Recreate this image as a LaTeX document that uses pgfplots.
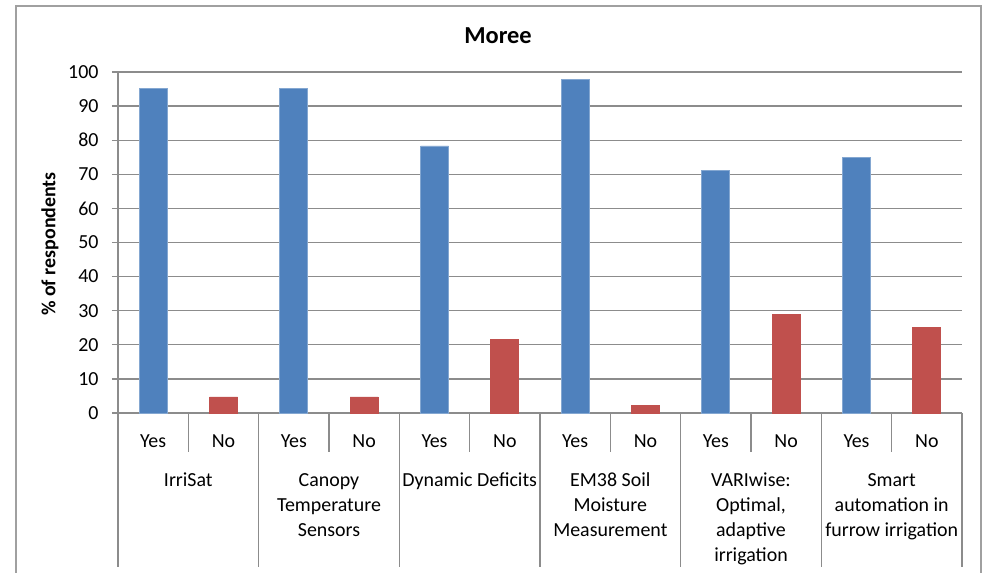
\documentclass[border=0pt]{standalone}
\usepackage{pgfplots}
\pgfplotsset{compat=1.18}
\usepackage{fontspec}
\setmainfont{Carlito}
\definecolor{barblue}{HTML}{4F81BD}
\definecolor{barred}{HTML}{C0504D}
\definecolor{gridgray}{HTML}{8C8C8C}
\definecolor{framegray}{HTML}{A0A0A0}
\begin{document}
\begin{tikzpicture}
\useasboundingbox (-118bp,-160bp) rectangle (868bp,413bp);
\draw[framegray, line width=1.5bp] (-102bp,-175bp) -- (-102bp,407bp) -- (863bp,407bp) -- (863bp,-175bp);
\begin{axis}[
  at={(0,0)}, anchor=south west,
  scale only axis, width=844bp, height=341bp,
  xmin=-0.5, xmax=11.5, ymin=0, ymax=100,
  axis lines*=left,
  axis line style={gridgray, line width=1.2bp},
  ytick={0,10,...,100},
  ymajorgrids, grid style={gridgray, line width=1.2bp},
  tick align=outside,
  y tick style={gridgray, line width=1.2bp},
  major tick length=6bp,
  xtick={0,...,11},
  xticklabels={Yes,No,Yes,No,Yes,No,Yes,No,Yes,No,Yes,No},
  x tick style={draw=none},
  /pgf/number format/assume math mode=true,
  ticklabel style={font=\fontsize{20}{24.5}\selectfont, text=black},
  xticklabel style={anchor=center, yshift=-22bp},
  yticklabel style={anchor=east, xshift=-10bp},
  ybar, bar width=28bp, bar shift=0pt,
  clip=false,
]
\addplot[fill=barblue, draw=barblue!70!white, line width=0.8bp] coordinates {(0,95.3) (2,95.3) (4,78.3) (6,97.8) (8,71.1) (10,75.0)};
\addplot[fill=barred, draw=barred, line width=0.8bp] coordinates {(1,4.7) (3,4.7) (5,21.7) (7,2.2) (9,28.9) (11,25.0)};
\draw[gridgray, line width=1.2bp] (axis cs:-0.5,0) -- ++(-6bp,0pt);
\foreach \s in {0.5,2.5,...,10.5} {
  \edef\tmp{\noexpand\draw[gridgray, line width=1.2bp] (axis cs:\s,0) -- ++(0pt,-39bp);}\tmp
}
\foreach \s in {-0.5,1.5,...,11.5} {
  \edef\tmp{\noexpand\draw[gridgray, line width=1.2bp] (axis cs:\s,0) -- ++(0pt,-154bp);}\tmp
}
\tikzset{grp/.style={anchor=north, inner sep=0pt, align=center, font=\fontsize{20}{25}\selectfont}}
\node[grp] at ([yshift=-56bp]axis cs:0.5,0) {\strut IrriSat};
\node[grp] at ([yshift=-56bp]axis cs:2.5,0) {\strut Canopy\\Temperature\\Sensors};
\node[grp] at ([yshift=-56bp]axis cs:4.5,0) {\strut Dynamic Deficits};
\node[grp] at ([yshift=-56bp]axis cs:6.5,0) {\strut EM38 Soil\\Moisture\\Measurement};
\node[grp] at ([yshift=-56bp]axis cs:8.5,0) {\strut VARIwise:\\Optimal,\\adaptive\\irrigation};
\node[grp] at ([yshift=-56bp]axis cs:10.5,0) {\strut Smart\\automation in\\furrow irrigation};
\end{axis}
\node[font=\fontsize{24.5}{28}\selectfont\bfseries] at (380bp,377bp) {Moree};
\node[rotate=90, font=\fontsize{20}{24}\selectfont\bfseries] at (-68bp,169bp) {\% of respondents};
\end{tikzpicture}
\end{document}
